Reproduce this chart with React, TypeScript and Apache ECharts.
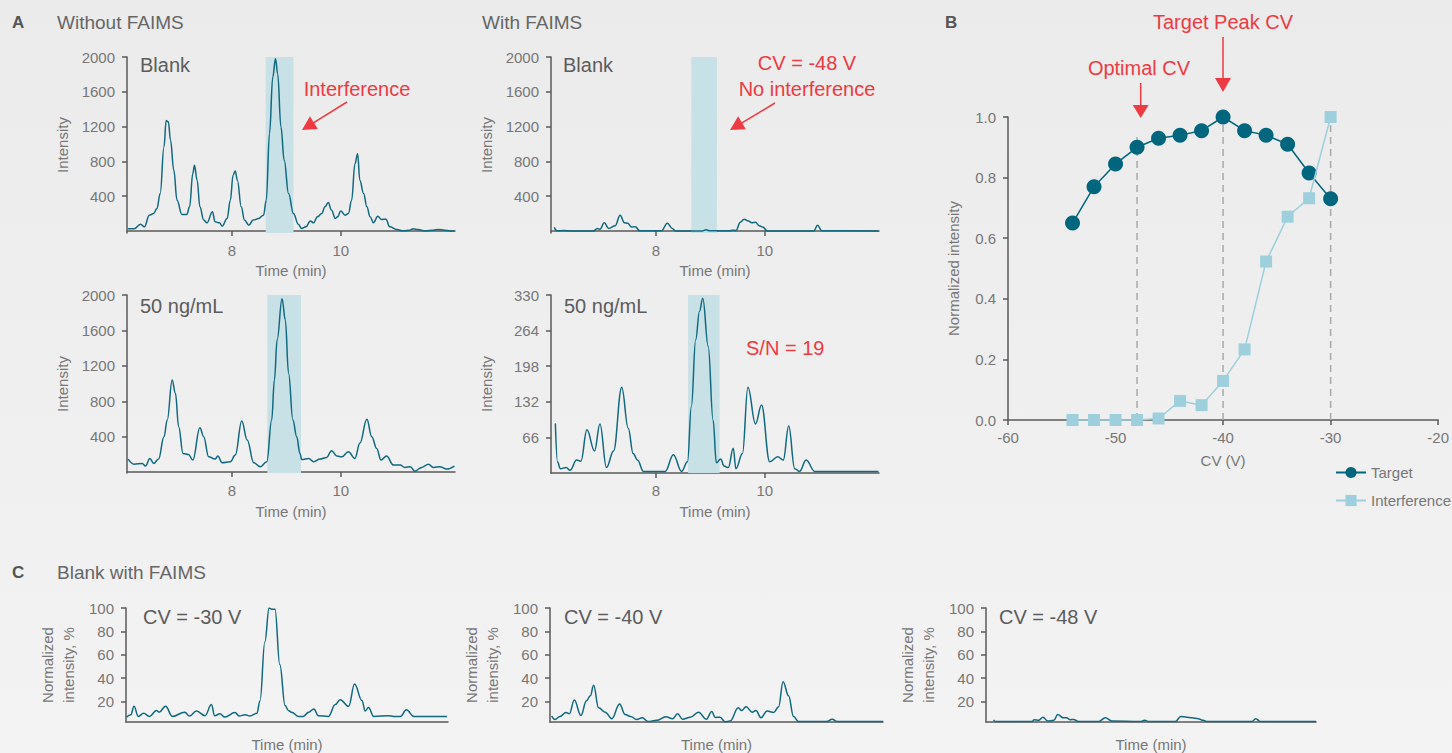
import React, { useEffect, useRef } from "react";
import * as echarts from "echarts";

const FONT = "'Liberation Sans', Arial, Helvetica, sans-serif";
const TEAL = "#10697f";
const BAND = "#c7e1e6";
const RED = "#ee3a43";
const AXIS = "#5a5a5a";
const TICKTXT = "#777777";
const LABEL = "#5c5c5c";
const TARGET_C = "#00667d";
const INTERF_C = "#9dd0dc";

const T_MIN = 6.07;
const T_MAX = 12.1;
const TIME_TICKS = [8, 10];

// A: Without FAIMS, Blank
const withoutBlank: [number, number][] = [
  [6.09, 25], [6.2, 25], [6.32, 79], [6.39, 48], [6.48, 182], [6.56, 201], [6.62, 258], [6.68, 430],
  [6.75, 967], [6.79, 1270], [6.83, 1255], [6.87, 1043], [6.93, 700], [6.99, 354], [7.08, 190], [7.17, 190],
  [7.22, 278], [7.28, 660], [7.31, 756], [7.36, 584], [7.41, 278], [7.48, 125], [7.54, 94], [7.64, 220],
  [7.69, 105], [7.77, 94], [7.82, 56], [7.91, 144], [7.97, 354], [8.02, 641], [8.06, 691], [8.1, 584],
  [8.17, 278], [8.23, 125], [8.31, 67], [8.39, 125], [8.49, 144], [8.58, 182], [8.63, 354], [8.69, 1120],
  [8.75, 1770], [8.8, 1981], [8.84, 1808], [8.9, 1196], [8.96, 813], [9.04, 430], [9.13, 201], [9.22, 78],
  [9.28, 29], [9.36, 48], [9.44, 116], [9.5, 94], [9.57, 163], [9.65, 201], [9.71, 278], [9.77, 327],
  [9.83, 239], [9.9, 144], [9.94, 163], [10.0, 230], [10.08, 182], [10.14, 201], [10.2, 354], [10.26, 771],
  [10.31, 888], [10.35, 584], [10.42, 430], [10.48, 278], [10.54, 163], [10.6, 94], [10.68, 170], [10.75, 132],
  [10.83, 136], [10.9, 48], [11.03, 17], [11.15, 2], [11.27, 10], [11.33, 25], [11.42, 17], [11.55, 0],
  [11.7, 10], [11.79, 17], [11.91, 10], [12.01, 0], [12.09, 2],
];

// A: With FAIMS, Blank
const withBlank: [number, number][] = [
  [6.13, 42], [6.18, 2], [6.3, 6], [6.45, 0], [6.85, 0], [6.92, 30], [6.97, 20], [7.05, 95], [7.13, 30],
  [7.25, 60], [7.34, 180], [7.42, 95], [7.48, 90], [7.55, 45], [7.62, 50], [7.7, 2], [8.1, 2], [8.21, 90],
  [8.3, 30], [8.36, 0], [8.85, 0], [8.92, 15], [8.98, 2], [9.35, 2], [9.41, 10], [9.47, 5], [9.55, 100],
  [9.62, 135], [9.7, 115], [9.76, 95], [9.83, 100], [9.9, 60], [9.96, 45], [10.05, 0], [10.9, 0],
  [10.97, 65], [11.05, 2], [12.09, 0],
];

// A: Without FAIMS, 50 ng/mL
const without50: [number, number][] = [
  [6.09, 147], [6.2, 90], [6.35, 98], [6.41, 68], [6.49, 155], [6.56, 98], [6.65, 147], [6.75, 400],
  [6.81, 589], [6.9, 1040], [6.96, 890], [7.02, 513], [7.1, 211], [7.2, 200], [7.28, 136], [7.41, 502],
  [7.48, 400], [7.57, 174], [7.69, 147], [7.74, 181], [7.82, 106], [7.97, 117], [8.06, 192], [8.18, 577],
  [8.28, 362], [8.4, 106], [8.52, 60], [8.64, 117], [8.73, 589], [8.78, 1040], [8.83, 1494], [8.92, 1959],
  [8.98, 1721], [9.04, 1117], [9.12, 589], [9.19, 400], [9.25, 211], [9.28, 143], [9.41, 155], [9.5, 117],
  [9.62, 147], [9.74, 166], [9.83, 242], [9.93, 181], [10.02, 174], [10.14, 230], [10.26, 155], [10.35, 325],
  [10.48, 596], [10.57, 400], [10.66, 268], [10.74, 136], [10.84, 181], [10.97, 79], [11.09, 79], [11.18, 53],
  [11.28, 60], [11.36, 11], [11.49, 53], [11.61, 90], [11.7, 53], [11.82, 60], [11.95, 34], [12.09, 68],
];

// A: With FAIMS, 50 ng/mL
const with50: [number, number][] = [
  [6.15, 92], [6.19, 21], [6.24, 8], [6.35, 10], [6.42, 5], [6.54, 24], [6.62, 22], [6.73, 80], [6.87, 41],
  [6.97, 91], [7.09, 10], [7.22, 41], [7.37, 159], [7.49, 83], [7.58, 36], [7.66, 24], [7.77, 3], [8.17, 3],
  [8.32, 34], [8.47, 3], [8.58, 21], [8.65, 123], [8.73, 247], [8.8, 300], [8.86, 324], [8.96, 235], [9.05, 98],
  [9.11, 19], [9.19, 26], [9.25, 13], [9.33, 10], [9.42, 46], [9.47, 8], [9.59, 36], [9.69, 159], [9.83, 91],
  [9.94, 126], [10.09, 21], [10.24, 30], [10.34, 24], [10.44, 87], [10.55, 8], [10.64, 3], [10.76, 24],
  [10.92, 3], [12.09, 3],
];

// C: Blank with FAIMS at three CVs (normalized %)
const cv30: [number, number][] = [
  [6.08, 6.8], [6.16, 8.8], [6.22, 16], [6.3, 7.4], [6.4, 10], [6.51, 7.4], [6.64, 12.4], [6.69, 11],
  [6.81, 16], [6.94, 7.4], [7.17, 11], [7.26, 7.7], [7.39, 12], [7.55, 8], [7.67, 17.5], [7.73, 8],
  [7.83, 9.6], [7.92, 6.8], [8.11, 10.7], [8.19, 7.7], [8.3, 8.8], [8.39, 7.7], [8.52, 10], [8.58, 20.8],
  [8.67, 71], [8.75, 100], [8.8, 99], [8.86, 99], [8.95, 51.7], [9.05, 16.6], [9.11, 12.4], [9.17, 11],
  [9.3, 7.4], [9.39, 7.4], [9.49, 11], [9.59, 13.8], [9.67, 8], [9.86, 7.4], [9.99, 17.5], [10.08, 21.7],
  [10.24, 16], [10.35, 35], [10.49, 20.8], [10.55, 12], [10.61, 15], [10.71, 7.4], [10.99, 8], [11.08, 7.4],
  [11.21, 7.4], [11.32, 13], [11.46, 7.4], [12.08, 7.4],
];
const cv40: [number, number][] = [
  [6.1, 7.6], [6.16, 4.8], [6.25, 7.3], [6.36, 10.7], [6.42, 9.6], [6.51, 21.4], [6.63, 8.1], [6.73, 20.8],
  [6.8, 25], [6.86, 34], [6.95, 14.7], [7.07, 11], [7.19, 5.4], [7.33, 18], [7.43, 9], [7.53, 7.3],
  [7.64, 4.8], [7.74, 6.2], [7.85, 3], [8.0, 4], [8.17, 7], [8.29, 5.4], [8.38, 9.6], [8.47, 5], [8.61, 6.7],
  [8.76, 11], [8.9, 5], [9.0, 11.5], [9.06, 6.5], [9.15, 6.7], [9.24, 2.8], [9.33, 3.4], [9.48, 14.7],
  [9.54, 12.4], [9.62, 15.7], [9.73, 11], [9.8, 12.4], [9.89, 6.2], [10.0, 12], [10.12, 10.7], [10.21, 15.7],
  [10.29, 37], [10.39, 25], [10.48, 7.3], [10.57, 3], [11.08, 3], [11.18, 5], [11.27, 3], [12.1, 3],
];
const cv48: [number, number][] = [
  [6.21, 4.5], [6.24, 3], [6.91, 3], [6.95, 4.5], [7.03, 4], [7.11, 6.7], [7.2, 3.4], [7.31, 4], [7.38, 9],
  [7.48, 6.2], [7.54, 6.2], [7.61, 4.5], [7.67, 4.8], [7.76, 3], [8.13, 3], [8.25, 6.2], [8.37, 3.4],
  [8.89, 3], [8.97, 4], [9.04, 3], [9.53, 3], [9.63, 7.3], [9.74, 6.7], [9.83, 6.2], [9.95, 5.4], [10.04, 4],
  [10.1, 3], [10.93, 3], [11.0, 5.4], [11.08, 3], [12.1, 3],
];

// B: CV scan
const cvValues = [-54, -52, -50, -48, -46, -44, -42, -40, -38, -36, -34, -32, -30];
const targetIntensity = [0.65, 0.77, 0.845, 0.9, 0.93, 0.94, 0.955, 1.0, 0.955, 0.94, 0.91, 0.815, 0.73];
const interferenceIntensity = [0, 0, 0, 0, 0.005, 0.063, 0.049, 0.129, 0.233, 0.523, 0.671, 0.732, 1.0];
// vertical guide lines: [CV, top of dashed line]
const guideLines: [number, number][] = [[-48, 0.94], [-40, 1.025], [-30, 1.025]];

const intensityTicks2000 = [400, 800, 1200, 1600, 2000];
const intensityTicks330 = [66, 132, 198, 264, 330];
const percentTicks = [20, 40, 60, 80, 100];

// highlighted retention windows (min)
const bands: [number, number][] = [[8.62, 9.13], [8.65, 9.12], [8.65, 9.27], [8.59, 9.17]];

const smallText = { color: TICKTXT, fontSize: 15, fontFamily: FONT };

function arrow(x1: number, y1: number, x2: number, y2: number, head = 14, half = 7.5) {
  const dx = x2 - x1, dy = y2 - y1;
  const L = Math.hypot(dx, dy);
  const ux = dx / L, uy = dy / L;
  const bx = x2 - ux * head, by = y2 - uy * head;
  const px = -uy, py = ux;
  return [
    { type: "line", silent: true, shape: { x1, y1, x2: bx + ux * 2, y2: by + uy * 2 }, style: { stroke: RED, lineWidth: 1.5 } },
    {
      type: "polygon", silent: true,
      shape: { points: [[x2, y2], [bx + px * half, by + py * half], [bx - px * half, by - py * half]] },
      style: { fill: RED },
    },
  ];
}

function txt(text: string, x: number, y: number, size: number, fill: string, align = "left", weight = "normal") {
  return {
    type: "text", silent: true, x, y,
    style: { text, fontSize: size, fontFamily: FONT, fill, align, verticalAlign: "middle", fontWeight: weight },
  };
}

export default function App() {
  const ref = useRef<HTMLDivElement>(null);
  useEffect(() => {
    if (!ref.current) return;
    const chart = echarts.init(ref.current, undefined, { renderer: "svg" });

    const grids = [
      { left: 127, top: 57, width: 328, height: 176 },
      { left: 551, top: 57, width: 328, height: 176 },
      { left: 127, top: 295, width: 328, height: 178 },
      { left: 551, top: 295, width: 328, height: 178 },
      { left: 1008, top: 117, width: 435, height: 303 },
      { left: 126, top: 608, width: 322, height: 115 },
      { left: 550, top: 608, width: 333, height: 115 },
      { left: 986, top: 608, width: 330, height: 115 },
    ];

    const axisLine = { show: true, lineStyle: { color: AXIS, width: 1.5 } };
    const tickStyle = { color: AXIS, width: 1.5 };
    const plain = (v: number) => String(v);

    const chromX = (gi: number, labeled: boolean, gap: number) => ({
      type: "value", gridIndex: gi, min: T_MIN, max: T_MAX,
      name: "Time (min)", nameLocation: "middle", nameGap: gap, nameTextStyle: smallText,
      axisLine,
      axisTick: labeled ? { show: true, length: 5, customValues: TIME_TICKS, lineStyle: tickStyle } : { show: false },
      axisLabel: labeled ? { show: true, customValues: TIME_TICKS, margin: 10, formatter: plain, ...smallText } : { show: false },
      splitLine: { show: false },
    });
    const chromY = (gi: number, min: number, max: number, ticks: number[], name: string, gap: number) => ({
      type: "value", gridIndex: gi, min, max,
      name, nameLocation: "middle", nameGap: gap,
      nameTextStyle: { ...smallText, lineHeight: 21, align: "center" },
      axisLine,
      axisTick: { show: true, length: 5, customValues: ticks, lineStyle: tickStyle },
      axisLabel: { show: true, customValues: ticks, margin: 12, formatter: plain, ...smallText },
      splitLine: { show: false },
    });

    const xAxis: any[] = [
      chromX(0, true, 30), chromX(1, true, 30), chromX(2, true, 31), chromX(3, true, 31),
      {
        type: "value", gridIndex: 4, min: -60, max: -20, interval: 10,
        name: "CV (V)", nameLocation: "middle", nameGap: 33, nameTextStyle: smallText,
        axisLine, axisTick: { show: true, length: 5, lineStyle: tickStyle },
        axisLabel: { margin: 10, formatter: plain, ...smallText }, splitLine: { show: false },
      },
      chromX(5, false, 15), chromX(6, false, 15), chromX(7, false, 15),
    ];
    const yAxis: any[] = [
      chromY(0, -23, 2000, intensityTicks2000, "Intensity", 54),
      chromY(1, -23, 2000, intensityTicks2000, "Intensity", 54),
      chromY(2, -10, 2000, intensityTicks2000, "Intensity", 54),
      chromY(3, 0, 330, intensityTicks330, "Intensity", 54),
      {
        type: "value", gridIndex: 4, min: 0, max: 1, interval: 0.2,
        name: "Normalized intensity", nameLocation: "middle", nameGap: 47, nameTextStyle: smallText,
        axisLine, axisTick: { show: true, length: 5, lineStyle: tickStyle },
        axisLabel: { margin: 12, ...smallText, formatter: (v: number) => v.toFixed(1) },
        splitLine: { show: false },
      },
      chromY(5, 2.6, 100, percentTicks, "Normalized\nintensity, %", 47),
      chromY(6, 2.6, 100, percentTicks, "Normalized\nintensity, %", 47),
      chromY(7, 2.6, 100, percentTicks, "Normalized\nintensity, %", 47),
    ];

    const chromSeries = (gi: number, data: [number, number][]) => ({
      type: "line", xAxisIndex: gi, yAxisIndex: gi, data, symbol: "none", showSymbol: false,
      smooth: 0.4, smoothMonotone: "x", z: 3, silent: true,
      lineStyle: { color: TEAL, width: 1.5 },
    });
    const bandSeries = (gi: number, band: [number, number]) => ({
      type: "line", xAxisIndex: gi, yAxisIndex: gi, data: [], z: 1, silent: true,
      markArea: { silent: true, itemStyle: { color: BAND }, data: [[{ xAxis: band[0] }, { xAxis: band[1] }]] },
    });

    const guideSeries = guideLines.map(([x, top]) => ({
      type: "line", xAxisIndex: 4, yAxisIndex: 4, z: 1, silent: true, clip: false,
      symbol: "none", showSymbol: false,
      data: [[x, 0], [x, top]],
      lineStyle: { color: "#a9a9a9", type: [7, 5], width: 1.5 },
    }));

    const series: any[] = [
      bandSeries(0, bands[0]), bandSeries(1, bands[1]), bandSeries(2, bands[2]), bandSeries(3, bands[3]),
      chromSeries(0, withoutBlank), chromSeries(1, withBlank), chromSeries(2, without50), chromSeries(3, with50),
      chromSeries(5, cv30), chromSeries(6, cv40), chromSeries(7, cv48),
      ...guideSeries,
      {
        name: "Target", type: "line", xAxisIndex: 4, yAxisIndex: 4, z: 3,
        data: cvValues.map((c, i) => [c, targetIntensity[i]]),
        symbol: "circle", symbolSize: 15, clip: false,
        lineStyle: { color: TARGET_C, width: 1.5 }, itemStyle: { color: TARGET_C },
      },
      {
        name: "Interference", type: "line", xAxisIndex: 4, yAxisIndex: 4, z: 4,
        data: cvValues.map((c, i) => [c, interferenceIntensity[i]]),
        symbol: "rect", symbolSize: 12, clip: false,
        lineStyle: { color: INTERF_C, width: 1.5 }, itemStyle: { color: INTERF_C },
      },
    ];

    const graphic: any[] = [
      txt("A", 12, 22, 17, "#555", "left", "bold"),
      txt("Without FAIMS", 57, 22, 19, "#666"),
      txt("With FAIMS", 482, 22, 19, "#666"),
      txt("B", 945, 22, 17, "#555", "left", "bold"),
      txt("C", 12, 572, 17, "#555", "left", "bold"),
      txt("Blank with FAIMS", 57, 572, 19, "#666"),
      txt("Blank", 140, 65, 20, LABEL),
      txt("Blank", 563, 65, 20, LABEL),
      txt("50 ng/mL", 140, 306, 20, LABEL),
      txt("50 ng/mL", 564, 306, 20, LABEL),
      txt("CV = -30 V", 143, 617, 20, LABEL),
      txt("CV = -40 V", 564, 617, 20, LABEL),
      txt("CV = -48 V", 999, 617, 20, LABEL),
      txt("Interference", 357, 89, 20, RED, "center"),
      txt("CV = -48 V", 807, 63, 20, RED, "center"),
      txt("No interference", 807, 89, 20, RED, "center"),
      txt("S/N = 19", 746, 348, 20, RED),
      txt("Optimal CV", 1139, 68, 20, RED, "center"),
      txt("Target Peak CV", 1223, 22, 20, RED, "center"),
      ...arrow(347, 102, 302, 130),
      ...arrow(775, 103, 730, 130),
      ...arrow(1140.7, 83, 1140.7, 118, 13, 8),
      ...arrow(1223, 37, 1223, 92, 14, 8),
    ];

    chart.setOption({
      animation: false,
      backgroundColor: "transparent",
      textStyle: { fontFamily: FONT },
      grid: grids.map((g) => ({ ...g, containLabel: false })),
      xAxis, yAxis, series, graphic,
      legend: {
        data: ["Target", "Interference"], orient: "vertical", left: 1330, top: 460,
        itemWidth: 30, itemHeight: 14, itemGap: 13, selectedMode: false,
        textStyle: { ...smallText },
      },
    });
    return () => chart.dispose();
  }, []);

  return (
    <div
      ref={ref}
      style={{
        position: "absolute", left: 0, top: 0, width: 1452, height: 753,
        background: "linear-gradient(180deg, #ebebeb 0%, #eeeeee 40%, #f3f3f3 100%)",
      }}
    />
  );
}
